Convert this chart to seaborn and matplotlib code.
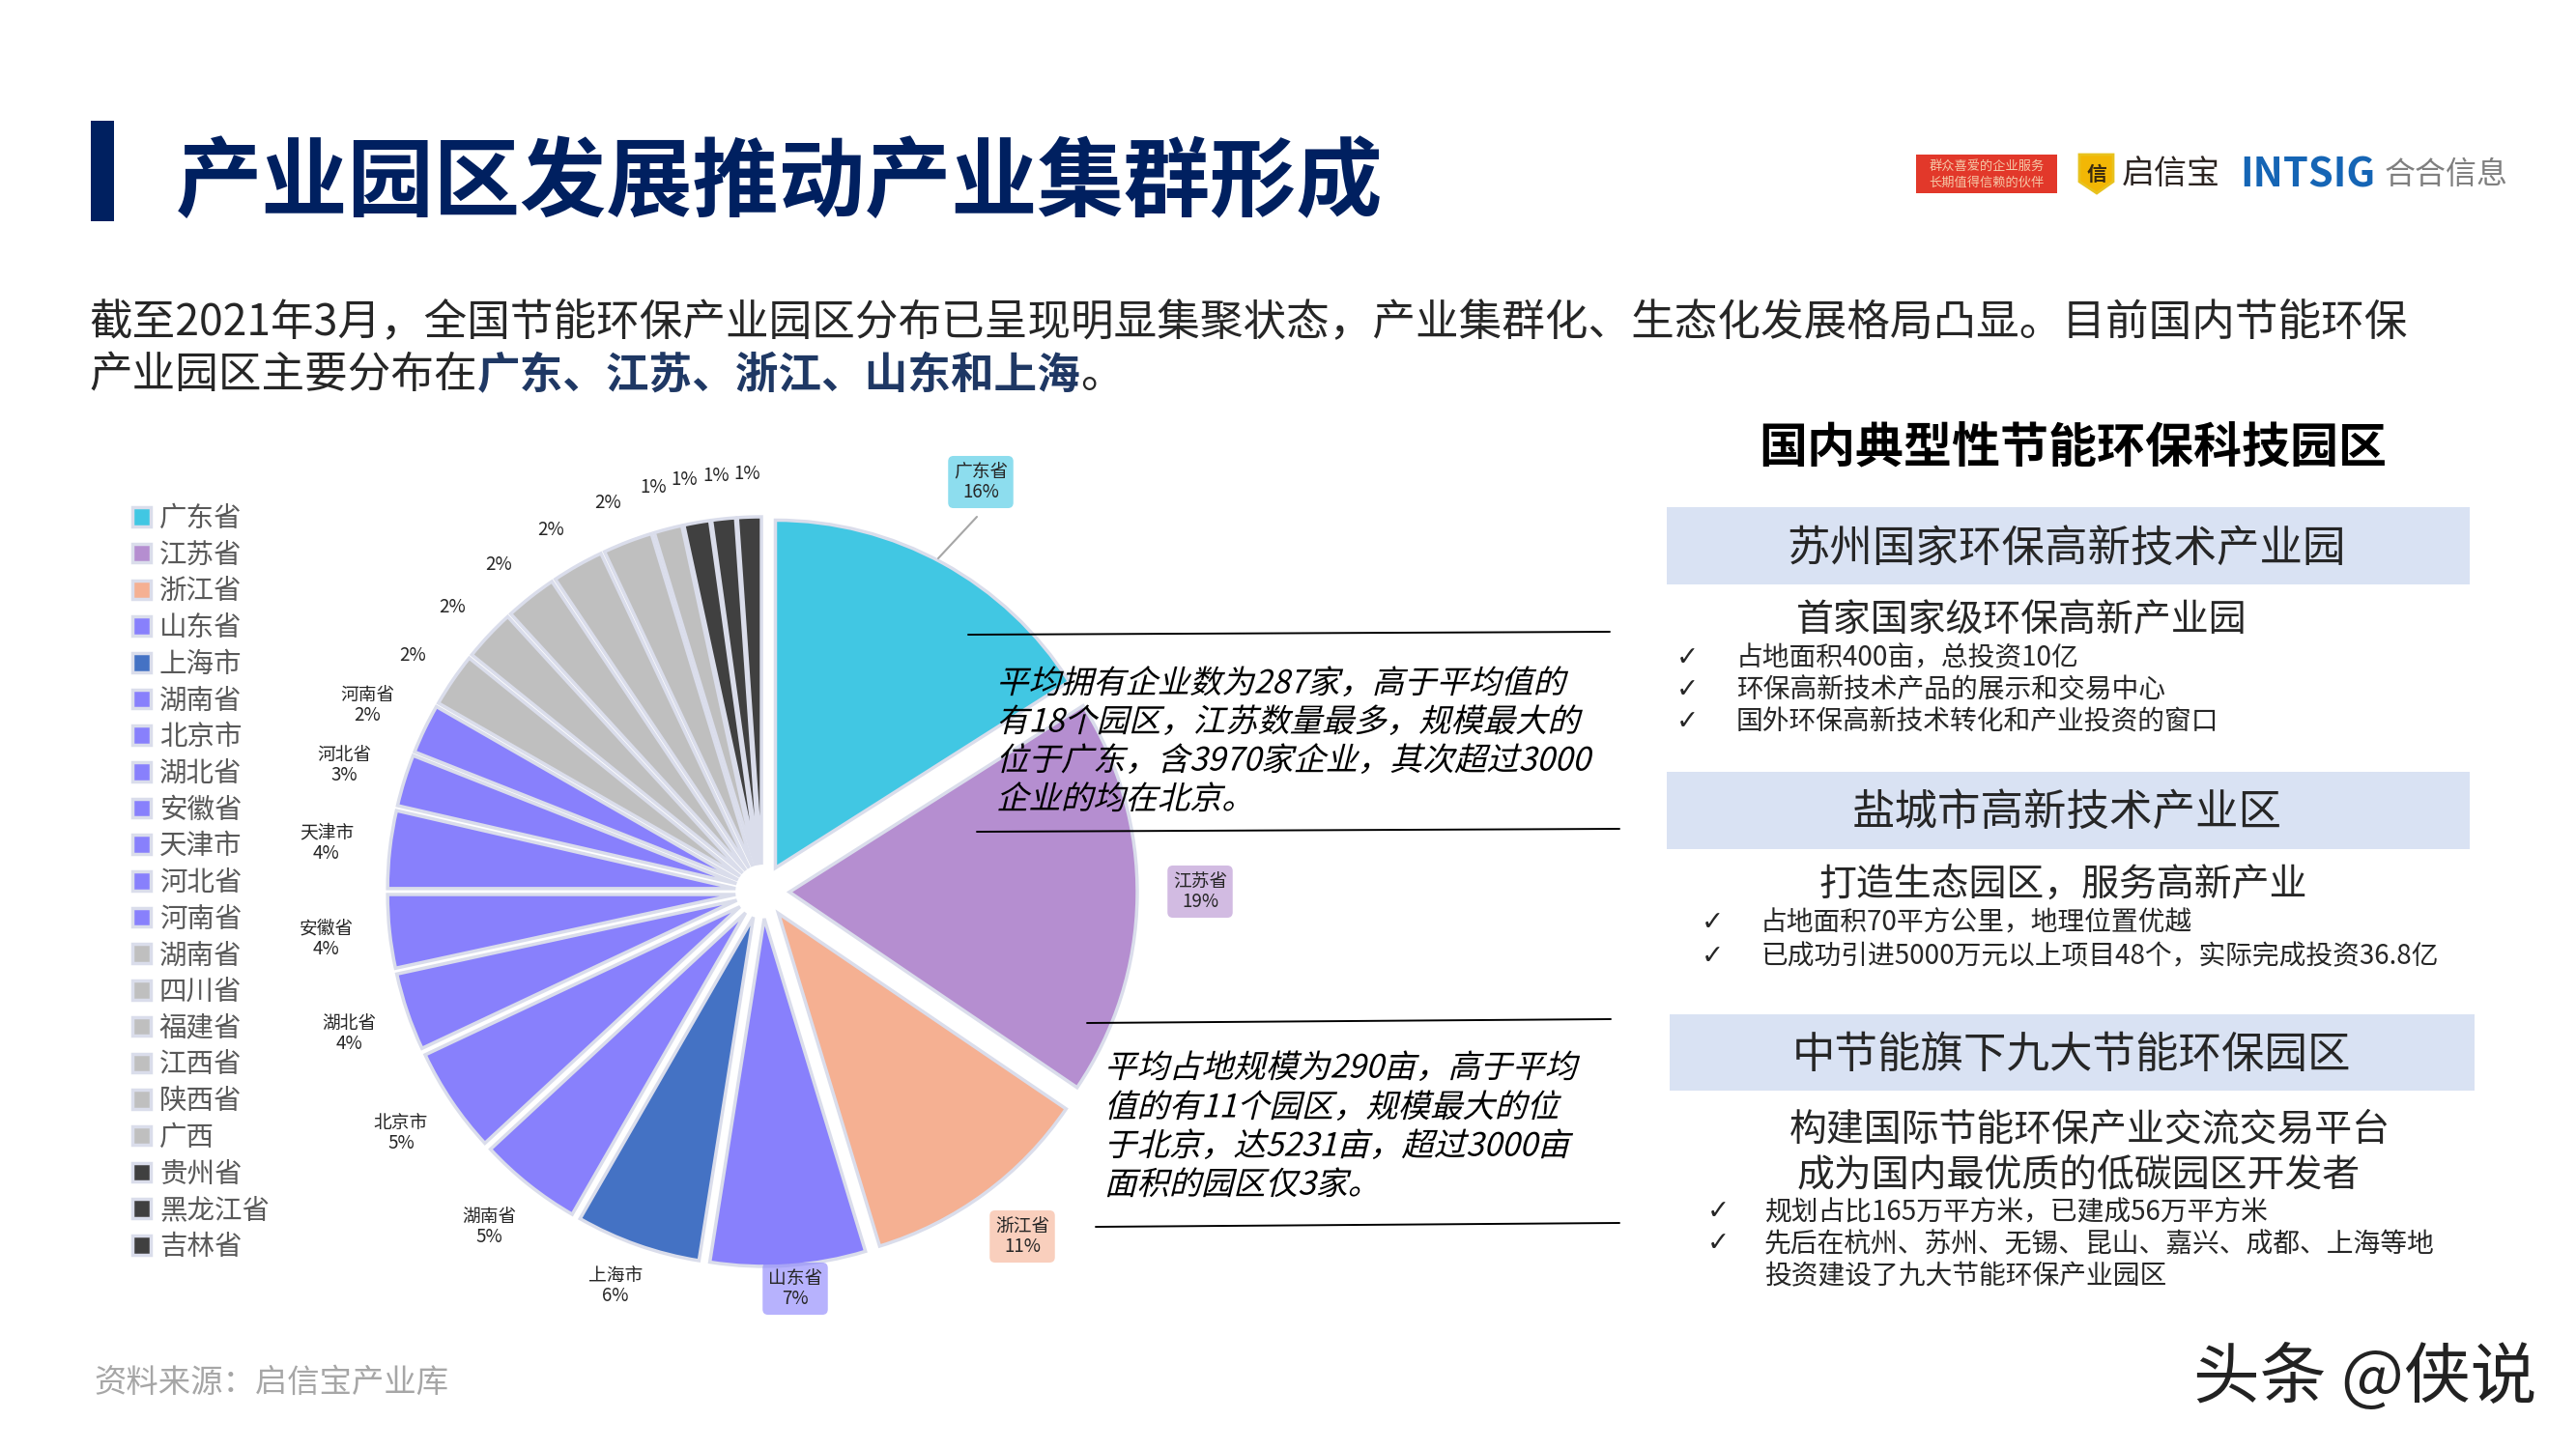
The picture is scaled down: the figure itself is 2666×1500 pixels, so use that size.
import matplotlib
matplotlib.use("Agg")
import matplotlib.pyplot as plt
import matplotlib.patheffects as pe
from matplotlib.patches import Rectangle, Polygon
from matplotlib.transforms import Affine2D
import seaborn as sns

sns.set_theme(style="white")
FONTS = ['Noto Sans CJK SC', 'DejaVu Sans']
plt.rcParams['font.family'] = FONTS

#Chart data
provinces = ['广东省','江苏省','浙江省','山东省','上海市','湖南省','北京市','湖北省','安徽省','天津市','河北省',
             '河南省','湖南省','四川省','福建省','江西省','陕西省','广西','贵州省','黑龙江省','吉林省']
shares = [16.0,18.5,10.8,7.2,5.8,4.8,4.9,3.6,3.4,3.6,2.4,2.3,2.5,2.4,2.4,2.4,2.3,1.3,1.2,1.1,1.1]
pct_labels = ['16%','19%','11%','7%','6%','5%','5%','4%','4%','4%','3%','2%','2%','2%','2%','2%','2%','1%','1%','1%','1%']
slice_colors = ['#41C7E3','#B58ED0','#F5B092','#8880FC','#4472C4'] + ['#8880FC']*7 + ['#BFBFBF']*6 + ['#404040']*3
named_labels = 12

#Pixel positions of the data labels
label_x = [1015,1242,1058,823,637,506,415,361,338,338,356,380,427,468,516,570,629,676,708,741,773]
label_y = [499,923,1280,1334,1331,1270,1173,1070,972,873,792,730,678,628,584,548,520,505,497,492,490]

#Slide text
title = '产业园区发展推动产业集群形成'
intro_1 = '截至2021年3月，全国节能环保产业园区分布已呈现明显集聚状态，产业集群化、生态化发展格局凸显。目前国内节能环保'
intro_2 = ['产业园区主要分布在', '广东、江苏、浙江、山东和上海', '。']
note_1 = ['平均拥有企业数为287家，高于平均值的','有18个园区，江苏数量最多，规模最大的','位于广东，含3970家企业，其次超过3000','企业的均在北京。']
note_2 = ['平均占地规模为290亩，高于平均','值的有11个园区，规模最大的位','于北京，达5231亩，超过3000亩','面积的园区仅3家。']
note_1_y = [708,748,788,828]
note_2_y = [1106,1147,1187,1227]
rule_lines = [(1002,657,1666,654),(1011,861,1676,858),(1125,1059,1667,1055),(1134,1270,1676,1266)]
# box: x0,y0,x1,y1,text x,text y,text
boxes = [(1725,525,2556,605,2139,568,'苏州国家环保高新技术产业园'),
         (1725,799,2556,879,2139,842,'盐城市高新技术产业区'),
         (1728,1050,2561,1129,2144,1092,'中节能旗下九大节能环保园区')]
subheads = [(2092,643,'首家国家级环保高新产业园'),(2135,916,'打造生态园区，服务高新产业'),
            (2163,1169,'构建国际节能环保产业交流交易平台'),(2151,1216,'成为国内最优质的低碳园区开发者')]
bullets = [(1797,681,'占地面积400亩，总投资10亿'),(1797,714,'环保高新技术产品的展示和交易中心'),(1797,747,'国外环保高新技术转化和产业投资的窗口'),
           (1822,955,'占地面积70平方公里，地理位置优越'),(1822,990,'已成功引进5000万元以上项目48个，实际完成投资36.8亿'),
           (1826,1255,'规划占比165万平方米，已建成56万平方米'),(1826,1288,'先后在杭州、苏州、无锡、昆山、嘉兴、成都、上海等地')]
bullet_plain = (1826,1320,'投资建设了九大节能环保产业园区')
ticks = [(1746,681),(1746,714),(1746,747),(1772,955),(1772,990),(1778,1254),(1778,1287)]

NAVY = '#002060'
BLUE = '#1F3864'
W, H = 2666, 1500

class Slant(pe.AbstractPathEffect):
    #fake italic, the CJK fonts have no oblique cut
    def draw_path(self, renderer, gc, tpath, affine, rgbFace=None):
        renderer.draw_path(gc, tpath, Affine2D().skew_deg(14, 0) + affine, rgbFace)

fig = plt.figure(figsize=(W/100, H/100), dpi=100, facecolor='white')
ax = fig.add_axes([0, 0, 1, 1])

def Y(y):
    return H - y

def put(x, y, s, size, color='#262626', ha='left', **kw):
    return ax.text(x, Y(y), s, fontsize=size, color=color, ha=ha, va='center', **kw)

#Pie, explode is in data units here because radius is in pixels
R = 360
wedges, _ = ax.pie(shares, colors=sns.color_palette(slice_colors), radius=R, center=(789, Y(923)),
                   explode=[28]*len(shares), startangle=90, counterclock=False, frame=True,
                   wedgeprops=dict(edgecolor='#DADDEB', linewidth=2.5))
ax.set_xlim(0, W)
ax.set_ylim(0, H)
ax.set_aspect('equal')
ax.axis('off')

#Data labels, the biggest four sit on a tinted patch
for i, pct in enumerate(pct_labels):
    s = provinces[i] + '\n' + pct if i < named_labels else pct
    box = None
    if i < 4:
        box = dict(boxstyle='round,pad=0.3', facecolor=slice_colors[i], edgecolor='none', alpha=0.6)
    ax.text(label_x[i], Y(label_y[i]), s, fontsize=13.5, color='#262626', ha='center', va='center',
            linespacing=1.05, bbox=box)
ax.plot([971, 1011], [Y(578), Y(535)], color='#A6A6A6', lw=1.5)

#Legend
ax.legend(wedges, provinces, loc='upper left', bbox_to_anchor=(137/W, Y(522)/H), bbox_transform=ax.transAxes,
          frameon=False, prop=dict(family=FONTS, size=20.5), labelcolor='#595959', handlelength=0.68,
          handleheight=0.68, handletextpad=0.3, labelspacing=0.27, borderpad=0, borderaxespad=0)

#Header
ax.add_patch(Rectangle((94, Y(229)), 24, 104, facecolor=NAVY, edgecolor='none'))
put(182, 191, title, 64.3, color=NAVY, fontweight='bold')
ax.add_patch(Rectangle((1983, Y(200)), 146, 40, facecolor='#E2382A', edgecolor='none'))
put(2056, 172, '群众喜爱的企业服务', 9.5, color='#F5C9A8', ha='center')
put(2056, 189, '长期值得信赖的伙伴', 9.5, color='#F5C9A8', ha='center')
shield = [(2152,160),(2187,160),(2187,188),(2170,200),(2152,188)]
ax.add_patch(Polygon([(x, Y(y)) for x, y in shield], facecolor='#F2B705', edgecolor='#E8C21E', lw=2))
put(2170, 180, '信', 15, color='#3A2A10', ha='center', fontweight='bold')
put(2196, 181, '启信宝', 24.5, color='#2B2320', fontweight='medium')
put(2318, 181, 'INTSIG', 30, color='#1565B5', fontweight='bold')
put(2468, 181, '合合信息', 23, color='#7F7F7F')

#Intro
put(92, 334, intro_1, 32.1)
t = put(92, 388, intro_2[0], 32.1)
t = ax.annotate(intro_2[1], xy=(1, 0), xycoords=t, va='bottom', fontsize=32.1, color=BLUE, fontweight='bold')
ax.annotate(intro_2[2], xy=(1, 0), xycoords=t, va='bottom', fontsize=32.1, color='#262626')

#Notes over the pie
slant = [Slant()]
for s, y in zip(note_1, note_1_y):
    put(1031, y, s, 24, color='black', path_effects=slant)
for s, y in zip(note_2, note_2_y):
    put(1143, y, s, 24, color='black', path_effects=slant)
for x0, y0, x1, y1 in rule_lines:
    ax.plot([x0, x1], [Y(y0), Y(y1)], color='black', lw=1.4)

#Right column
put(2145, 465, '国内典型性节能环保科技园区', 36, color='black', ha='center', fontweight='bold')
for x0, y0, x1, y1, tx, ty, s in boxes:
    ax.add_patch(Rectangle((x0, Y(y1)), x1-x0, y1-y0, facecolor='#D9E2F3', edgecolor='none'))
    put(tx, ty, s, 32, ha='center')
for x, y, s in subheads:
    put(x, y, s, 28, ha='center')
for x, y, s in bullets + [bullet_plain]:
    put(x, y, s, 20)
for x, y in ticks:
    put(x, y, '✓', 20, ha='center', family='DejaVu Sans')

#Footer
put(97, 1431, '资料来源：启信宝产业库', 24, color='#A6A6A6')
put(2270, 1428, '头条 @侠说', 49.5, color='#222222')

fig.savefig('out.png', dpi=100)
